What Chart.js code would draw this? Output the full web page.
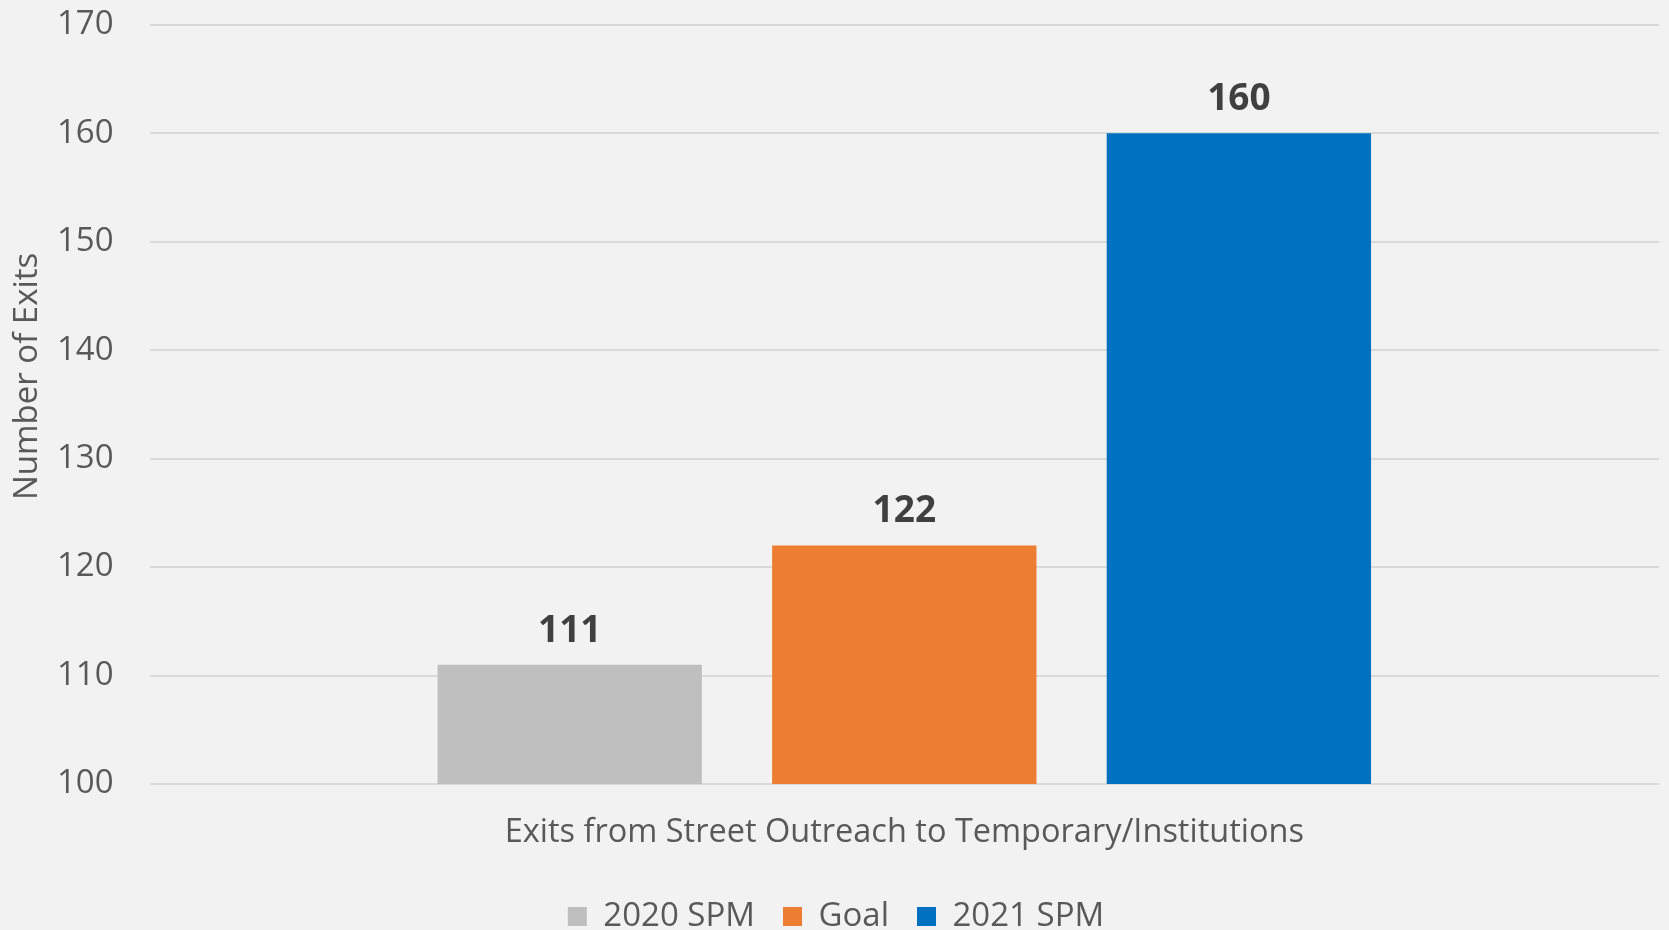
<!DOCTYPE html>
<html>
<head>
<meta charset="utf-8">
<script src="https://cdn.jsdelivr.net/npm/chart.js@4.4.1/dist/chart.umd.min.js"></script>
<style>
  html, body { margin: 0; padding: 0; background: #f2f2f2; overflow: hidden; }
  #wrap { width: 1669px; height: 943px; }
</style>
</head>
<body>
<div id="wrap"><canvas id="exitsChart" width="1669" height="943"></canvas></div>
<script>
// data
const categories = ["Exits from Street Outreach to Temporary/Institutions"];
const seriesNames = ["2020 SPM", "Goal", "2021 SPM"];
const seriesValues = [[111], [122], [160]];
const seriesColors = ["#bfbfbf", "#ed7d31", "#0070c0"];
const yTicks = [100, 110, 120, 130, 140, 150, 160, 170];
const yTitle = "Number of Exits";

const FONT = "'Open Sans', 'Liberation Sans', sans-serif";
const CLEAR = "rgba(0,0,0,0)";

// value labels above each bar
const barLabels = {
  id: "barLabels",
  afterDatasetsDraw(chart) {
    const ctx = chart.ctx;
    ctx.save();
    ctx.font = "bold 37px " + FONT;
    ctx.fillStyle = "#404040";
    ctx.textAlign = "center";
    ctx.textBaseline = "bottom";
    chart.data.datasets.forEach(function (ds, i) {
      chart.getDatasetMeta(i).data.forEach(function (bar, j) {
        ctx.fillText(ds.data[j], bar.x, bar.y - 15);
      });
    });
    ctx.restore();
  }
};

// y axis title: in the original it sits a little above the middle
const sideTitle = {
  id: "sideTitle",
  afterDraw(chart) {
    const ctx = chart.ctx;
    const a = chart.chartArea;
    ctx.save();
    ctx.translate(28, (a.top + a.bottom) / 2 - 28);
    ctx.rotate(-Math.PI / 2);
    ctx.font = "33px " + FONT;
    ctx.fillStyle = "#595959";
    ctx.textAlign = "center";
    ctx.textBaseline = "middle";
    ctx.fillText(yTitle, 0, 0);
    ctx.restore();
  }
};

document.addEventListener("DOMContentLoaded", function () {
  const el = document.getElementById("exitsChart");
  new Chart(el, {
    type: "bar",
    data: {
      labels: categories,
      datasets: seriesNames.map(function (name, i) {
        return {
          label: name,
          data: seriesValues[i],
          backgroundColor: seriesColors[i],
          borderWidth: 0,
          barPercentage: 0.79,
          categoryPercentage: 0.665,
        };
      }),
    },
    options: {
      responsive: false,
      animation: false,
      layout: { padding: { top: 0, left: 13, right: 10, bottom: 0 } },
      plugins: {
        legend: {
          position: "bottom",
          labels: {
            font: { family: FONT, size: 33 },
            color: "#595959",
            boxWidth: 19,
            boxHeight: 19,
            padding: 28,
          },
        },
        tooltip: { enabled: false },
      },
      scales: {
        x: {
          grid: { color: CLEAR, tickColor: CLEAR, drawOnChartArea: false, drawTicks: true, tickLength: 9 },
          border: { display: false },
          ticks: { font: { family: FONT, size: 32.5 }, color: "#595959", padding: 20 },
        },
        y: {
          min: 100,
          max: 170,
          afterBuildTicks: function (axis) {
            axis.ticks = yTicks.map(function (v) { return { value: v }; });
          },
          // room for the title drawn by sideTitle
          afterFit: function (axis) { axis.width += 39; },
          grid: { color: "#d9d9d9", lineWidth: 2, drawTicks: true, tickLength: 31, tickColor: CLEAR },
          border: { display: false },
          ticks: { font: { family: FONT, size: 33 }, color: "#595959", padding: 5 },
        },
      },
    },
    plugins: [barLabels, sideTitle],
  });
});
</script>
</body>
</html>
